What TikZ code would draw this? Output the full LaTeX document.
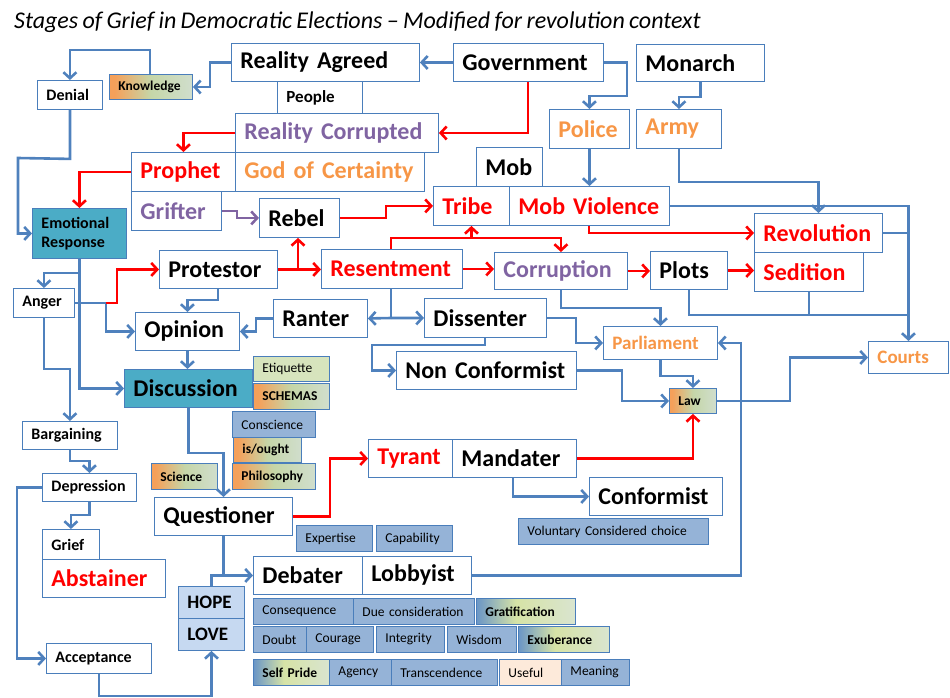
\documentclass[tikz,border=0pt]{standalone}
\usepackage{fontspec}
\setmainfont{Carlito}[WordSpace=0.8]
\usetikzlibrary{arrows.meta}
\definecolor{ln}{HTML}{4F81BD}
\definecolor{bd}{HTML}{4A7EBB}
\definecolor{rd}{HTML}{FF0000}
\definecolor{pu}{HTML}{8064A2}
\definecolor{og}{HTML}{F79646}
\definecolor{te}{HTML}{4BACC6}
\definecolor{lb}{HTML}{95B3D7}
\definecolor{hl}{HTML}{C6D9F1}
\definecolor{gn}{HTML}{D7E4BD}
\definecolor{pe}{HTML}{FDEADA}
\definecolor{ga}{HTML}{F5A05A}
\definecolor{gb}{HTML}{C5D6A8}
\definecolor{gc}{HTML}{DCE6F2}
\definecolor{gd}{HTML}{D6E3A6}
\definecolor{ge}{HTML}{5A8ACB}
\pgfdeclarehorizontalshading{gors}{100bp}{color(0bp)=(ga); color(28bp)=(ga); color(50bp)=(gb); color(100bp)=(gc)}
\pgfdeclarehorizontalshading{gbls}{100bp}{color(0bp)=(ge); color(22bp)=(ge); color(45bp)=(gd); color(100bp)=(gc)}
\tikzset{
 bx/.style={draw=bd,line width=0.9pt,inner ysep=0pt,inner xsep=9pt,align=left,anchor=north west,fill=white},
 big/.style={font=\fontsize{24}{26}\selectfont\bfseries},
 med/.style={font=\fontsize{19}{21}\selectfont\bfseries},
 sm/.style={font=\fontsize{16}{19}\selectfont\bfseries},
 ti/.style={font=\fontsize{13.5}{15}\selectfont},
 tib/.style={font=\fontsize{13.5}{15}\selectfont\bfseries},
 gro/.style={shading=gors},
 grb/.style={shading=gbls},
 con/.style={line width=2.6pt,-{Straight Barb[length=6pt,width=13pt]}},
 bl/.style={con,draw=ln},
 rl/.style={con,draw=rd},
 pl/.style={con,draw=pu},
 bn/.style={line width=2.6pt,draw=ln},
}
\newcommand\Bx[7][]{\node[bx,#1,minimum height={(#6-#4)*1pt},text width={(#5-#3-18)*1pt}] (#2) at (#3,#4) {#7};}
\begin{document}
\begin{tikzpicture}[x=1pt,y=-1pt]
\useasboundingbox (0,0) rectangle (950,698);
\node[anchor=base west,font=\fontsize{24}{26}\selectfont\itshape,inner sep=0pt] (title) at (14,29) {Stages of Grief in Democratic Elections – Modified for revolution context};
% boxes
\Bx[big]{ra}{231}{43}{419}{81}{Reality Agreed}
\Bx[big]{gov}{453}{43}{603}{81}{Government}
\Bx[big]{mon}{636}{44}{764}{81}{Monarch}
\Bx[font=\fontsize{17}{19}\selectfont\bfseries]{peo}{277}{81}{362}{113}{People}
\Bx[big,text=pu]{rc}{235}{113}{438}{152}{Reality Corrupted}
\Bx[big,text=rd]{pph}{131}{152}{235}{191}{Prophet}
\Bx[big,text=og]{god}{235}{152}{424}{191}{God of Certainty}
\Bx[big,text=pu]{gr}{131}{191}{221}{230}{Grifter}
\Bx[big]{reb}{259}{198}{339}{237}{Rebel}
\Bx[tib,gro]{kn}{109}{74}{192}{99}{Knowledge}
\Bx[sm]{den}{37}{80}{102}{109}{Denial}
\Bx[sm,fill=te]{er}{32}{208}{126}{258}{Emotional\\Response}
\Bx[big,text=og]{pol}{549}{109}{629}{148}{Police}
\Bx[big,text=og]{arm}{636}{109}{721}{148}{Army}
\Bx[big]{mob}{476}{147}{542}{186}{Mob}
\Bx[big,text=rd]{tri}{433}{186}{509}{225}{Tribe}
\Bx[big,text=rd]{mv}{509}{186}{669}{225}{Mob Violence}
\Bx[big,text=rd]{rev}{754}{213}{882}{252}{Revolution}
\Bx[big,text=rd]{sed}{754}{252}{863}{291}{Sedition}
\Bx[big]{plo}{650}{251}{727}{289}{Plots}
\Bx[big,text=pu]{cor}{494}{252}{627}{289}{Corruption}
\Bx[big,text=rd]{res}{321}{249}{462}{288}{Resentment}
\Bx[big]{prt}{159}{250}{277}{288}{Protestor}
\Bx[big]{op}{135}{312}{239}{350}{Opinion}
\Bx[big]{ran}{273}{299}{367}{337}{Ranter}
\Bx[big]{dis}{424}{298}{546}{337}{Dissenter}
\Bx[big]{nc}{396}{351}{576}{389}{Non Conformist}
\Bx[med,text=og]{par}{603}{326}{717}{359}{Parliament}
\Bx[tib,gro]{law}{669}{388}{716}{413}{Law}
\Bx[med,text=og]{co}{868}{341}{948}{373}{Courts}
\Bx[sm]{ang}{13}{288}{74}{317}{Anger}
\Bx[big,fill=te]{dsc}{124}{369}{252}{407}{Discussion}
\Bx[ti,fill=gn]{eti}{253}{356}{329}{381}{Etiquette}
\Bx[tib,gro]{sch}{253}{383}{329}{409}{SCHEMAS}
\Bx[ti,fill=lb]{cons}{232}{411}{315}{437}{Conscience}
\Bx[tib,gro]{iso}{233}{437}{301}{462}{is/ought}
\Bx[tib,gro]{phi}{232}{463}{315}{489}{Philosophy}
\Bx[tib,gro]{sci}{151}{463}{217}{489}{Science}
\Bx[sm]{bar}{22}{421}{117}{449}{Bargaining}
\Bx[sm]{dep}{42}{473}{136}{501}{Depression}
\Bx[sm]{gri}{42}{529}{99}{559}{Grief}
\Bx[big,text=rd]{abs}{42}{559}{165}{597}{Abstainer}
\Bx[big]{que}{154}{497}{292}{535}{Questioner}
\Bx[med,fill=hl]{hop}{178}{586}{244}{618}{HOPE}
\Bx[med,fill=hl]{lov}{178}{618}{244}{650}{LOVE}
\Bx[sm]{acc}{46}{643}{151}{673}{Acceptance}
\Bx[big]{deb}{253}{556}{362}{594}{Debater}
\Bx[big]{lob}{362}{556}{471}{594}{Lobbyist}
\Bx[ti,fill=lb]{exp}{296}{525}{372}{551}{Expertise}
\Bx[ti,fill=lb]{cap}{376}{525}{452}{551}{Capability}
\Bx[ti,fill=lb]{csq}{253}{598}{353}{624}{Consequence}
\Bx[ti,fill=lb]{due}{353}{598}{474}{624}{Due consideration}
\Bx[tib,grb]{gra}{476}{598}{575}{624}{Gratification}
\Bx[ti,fill=lb]{dou}{253}{626}{306}{652}{Doubt}
\Bx[ti,fill=lb]{cou}{306}{626}{373}{652}{Courage}
\Bx[ti,fill=lb]{int}{376}{626}{444}{652}{Integrity}
\Bx[ti,fill=lb]{wis}{447}{626}{516}{652}{Wisdom}
\Bx[tib,grb]{exu}{518}{626}{609}{652}{Exuberance}
\Bx[tib,grb]{sp}{253}{659}{329}{685}{Self Pride}
\Bx[ti,fill=lb]{age}{329}{659}{391}{685}{Agency}
\Bx[ti,fill=lb]{tra}{391}{659}{497}{685}{Transcendence}
\Bx[ti,fill=pe]{use}{499}{659}{561}{685}{Useful}
\Bx[ti,fill=lb]{mea}{561}{659}{629}{685}{Meaning}
\Bx[big,text=rd]{tyr}{368}{439}{452}{477}{Tyrant}
\Bx[big]{man}{452}{439}{576}{477}{Mandater}
\Bx[big]{cnf}{589}{477}{722}{515}{Conformist}
\Bx[ti,fill=lb]{vol}{518}{518}{708}{544}{Voluntary Considered choice}
% connectors
\draw[bl] (gov.west) -- (ra.east);
\draw[bl] (ra.west) -- ++(-21,0) |- (kn.east);
\draw[bl] (150,0 |- kn.north) -- ++(0,-24) -| (den.north);
\draw[bl] (den.south) -- ++(0,49) -- (18,158) |- (er.west);
\draw[rl] (528,0 |- gov.south) |- (rc.east);
\draw[rl] (rc.west) -| (pph.north);
\draw[rl] (pph.west) -| (er.north);
\draw[pl] (gr.east) -- ++(15,0) |- (reb.west);
\draw[bl] (gov.east) -| (627,96) -| (pol.north);
\draw[bl] (mon.south) -- ++(0,15) -| (arm.north);
\draw[bl] (pol.south) -- (pol.south |- mv.north);
\draw[bl] (arm.south) -- ++(0,33) -| (rev.north);
\draw[bl] (mv.east) -| (co.north);
\draw[bn] (rev.east) -- (co.north |- rev.east);
\draw[bn] (sed.south) |- (co.north |- 0,315);
\draw[bn] (plo.south) |- (co.north |- 0,315);
\draw[rl] (reb.east) -- ++(46,0) |- (tri.west);
\draw[rl] (prt.east) -- (prt.east -| res.west);
\draw[rl] (298,0 |- prt.east) -- (298,0 |- reb.south);
\draw[rl] (391,0 |- res.north) |- (cor.north |- 0,238) -- (cor.north);
\draw[rl] (tri.south |- 0,238) -- (tri.south);
\draw[rl] (589,0 |- mv.south) |- (rev.west);
\draw[rl] (res.east) -- (res.east -| cor.west);
\draw[rl] (cor.east) -- (cor.east -| plo.west);
\draw[rl] (plo.east) -- (plo.east -| sed.west);
\draw[bl] (cor.south) -- ++(0,18) -| (par.north);
\draw[bl] (dis.east) -- ++(29,0) |- (par.west);
\draw[bn] (391,0 |- res.south) -- (391,318);
\draw[bl] (391,318) -- (ran.east);
\draw[bl] (391,318) -- (dis.west);
\draw[bl] (485,0 |- dis.south) -- (485,345) -- (372,345) |- (nc.west);
\draw[bl] (nc.east) -- (622,0 |- nc.east) |- (law.west);
\draw[bl] (par.south) -- ++(0,16) -| (law.north);
\draw[bl] (law.east) -- (790,0 |- law.east) |- (co.west);
\draw[bl] (lob.east) -- (741,0 |- lob.east) |- (par.east);
\draw[rl] (man.east) -| (law.south);
\draw[bl] (513,0 |- man.south) |- (cnf.west);
\draw[rl] (que.east) -- (330,0 |- que.east) |- (tyr.west);
\draw[bl] (er.south) |- (dsc.west);
\draw[bl] (er.south |- 0,273) -| (ang.north);
\draw[bl] (ang.east) -- (106,0 |- ang.east) |- (op.west);
\draw[rl] (106,0 |- ang.east) -- (117,0 |- ang.east) |- (prt.west);
\draw[bl] (ang.south) -- ++(0,51) -| (bar.north);
\draw[bl] (218,0 |- prt.south) -- (218,300) -| (op.north);
\draw[bl] (ran.west) -- (256,0 |- ran.west) |- (op.east);
\draw[bl] (op.south) -- (op.south |- dsc.north);
\draw[bl] (dsc.south) -- ++(0,45) -| (que.north);
\draw[bl] (bar.south) -- ++(0,11) -| (dep.north);
\draw[bl] (dep.south) -- ++(0,13) -| (gri.north);
\draw[bl] (dep.west) -- (17,0 |- dep.west) |- (acc.west);
\draw[bl] (acc.south) -- ++(0,22) -| (lov.south);
\draw[bl] (que.south) |- (deb.west);
\draw[bn] (hop.north) |- (que.south |- deb.west);
\end{tikzpicture}
\end{document}
